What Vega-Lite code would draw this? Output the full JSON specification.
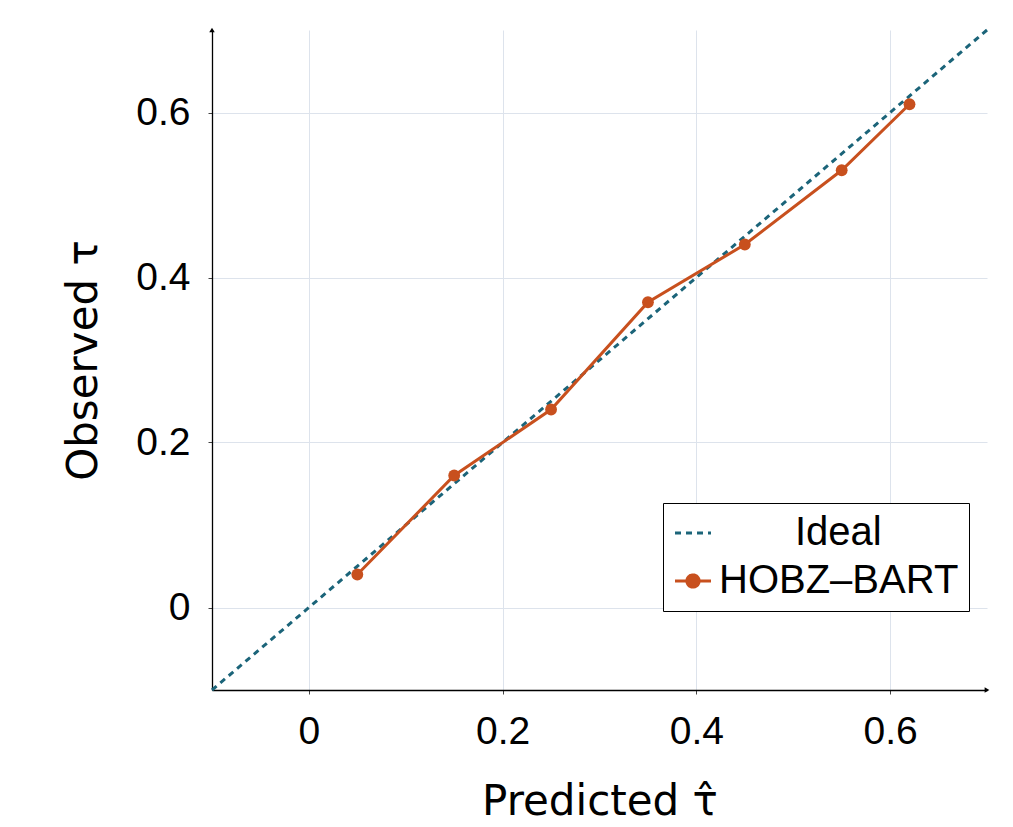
{
  "$schema": "https://vega.github.io/schema/vega-lite/v6.json",
  "width": 775,
  "height": 660,
  "autosize": "none",
  "padding": {"left": 212, "top": 30, "right": 26, "bottom": 137},
  "background": "white",
  "config": {
    "view": {"stroke": null},
    "font": "Liberation Sans",
    "axis": {
      "domainColor": "black",
      "domainWidth": 1.3,
      "tickColor": "#444",
      "tickSize": 4,
      "gridColor": "#dde3ec",
      "gridWidth": 1,
      "labelColor": "black",
      "labelFontSize": 39,
      "labelFont": "Liberation Sans",
      "titleFont": "DejaVu Sans",
      "titleFontSize": 42,
      "titleFontWeight": "normal",
      "titleColor": "black"
    }
  },
  "datasets": {
    "ideal": [
      {"x": -0.1, "y": -0.1, "series": "Ideal"},
      {"x": 0.7, "y": 0.7, "series": "Ideal"}
    ],
    "model": [
      {"x": 0.05, "y": 0.04, "series": "HOBZ–BART"},
      {"x": 0.15, "y": 0.16, "series": "HOBZ–BART"},
      {"x": 0.25, "y": 0.24, "series": "HOBZ–BART"},
      {"x": 0.35, "y": 0.37, "series": "HOBZ–BART"},
      {"x": 0.45, "y": 0.44, "series": "HOBZ–BART"},
      {"x": 0.55, "y": 0.53, "series": "HOBZ–BART"},
      {"x": 0.62, "y": 0.61, "series": "HOBZ–BART"}
    ],
    "arrows": [
      {"x": -0.1, "y": 0.7, "dir": "up"},
      {"x": 0.7, "y": -0.1, "dir": "right"}
    ]
  },
  "layer": [
    {
      "data": {"name": "ideal"},
      "mark": {"type": "line", "strokeWidth": 3, "strokeDash": [6, 5]},
      "encoding": {
        "x": {
          "field": "x", "type": "quantitative",
          "scale": {"domain": [-0.1, 0.7], "nice": false, "zero": false},
          "axis": {
            "values": [0, 0.2, 0.4, 0.6],
            "labelExpr": "datum.value == 0 ? '0' : format(datum.value, '.1f')",
            "labelPadding": 18,
            "title": "Predicted τ̂",
            "titlePadding": 30
          }
        },
        "y": {
          "field": "y", "type": "quantitative",
          "scale": {"domain": [-0.1, 0.7], "nice": false, "zero": false},
          "axis": {
            "values": [0, 0.2, 0.4, 0.6],
            "labelExpr": "datum.value == 0 ? '0' : format(datum.value, '.1f')",
            "labelPadding": 18,
            "title": "Observed τ",
            "titlePadding": 30
          }
        },
        "color": {
          "field": "series", "type": "nominal",
          "scale": {"domain": ["Ideal", "HOBZ–BART"], "range": ["#1b6479", "#c8501e"]},
          "legend": {
            "title": null,
            "orient": "none",
            "legendX": 451,
            "legendY": 473,
            "padding": 10,
            "strokeColor": "black",
            "fillColor": "white",
            "cornerRadius": 0,
            "symbolSize": 1296,
            "labelFontSize": 40,
            "labelFont": "Liberation Sans",
            "labelColor": "black",
            "labelOffset": 6,
            "labelLimit": 0,
            "rowPadding": 8,
            "encode": {
              "symbols": {
                "update": {
                  "shape": {"signal": "datum.value === 'Ideal' ? 'M-1,0H1' : 'M-1,0H1M0.34,0A0.34,0.34,0,1,1,-0.34,0A0.34,0.34,0,1,1,0.34,0Z'"},
                  "fill": {"signal": "datum.value === 'Ideal' ? 'transparent' : '#c8501e'"},
                  "stroke": {"signal": "datum.value === 'Ideal' ? '#1b6479' : '#c8501e'"},
                  "strokeDash": {"signal": "datum.value === 'Ideal' ? [6,5] : [1,0]"},
                  "strokeWidth": {"value": 3},
                  "opacity": {"value": 1}
                }
              },
              "labels": {
                "update": {
                  "dx": {"signal": "datum.value === 'Ideal' ? 76 : 0"}
                }
              }
            }
          }
        }
      }
    },
    {
      "data": {"name": "model"},
      "mark": {"type": "line", "strokeWidth": 3},
      "encoding": {
        "x": {"field": "x", "type": "quantitative"},
        "y": {"field": "y", "type": "quantitative"},
        "color": {"field": "series", "type": "nominal"}
      }
    },
    {
      "data": {"name": "model"},
      "mark": {"type": "point", "filled": true, "size": 140, "opacity": 1},
      "encoding": {
        "x": {"field": "x", "type": "quantitative"},
        "y": {"field": "y", "type": "quantitative"},
        "color": {"field": "series", "type": "nominal"}
      }
    },
    {
      "data": {"name": "arrows"},
      "mark": {"type": "point", "filled": true, "size": 30, "opacity": 1, "color": "black"},
      "encoding": {
        "x": {"field": "x", "type": "quantitative"},
        "y": {"field": "y", "type": "quantitative"},
        "shape": {
          "field": "dir", "type": "nominal",
          "scale": {"domain": ["up", "right"], "range": ["triangle-up", "triangle-right"]},
          "legend": null
        }
      }
    }
  ]
}
